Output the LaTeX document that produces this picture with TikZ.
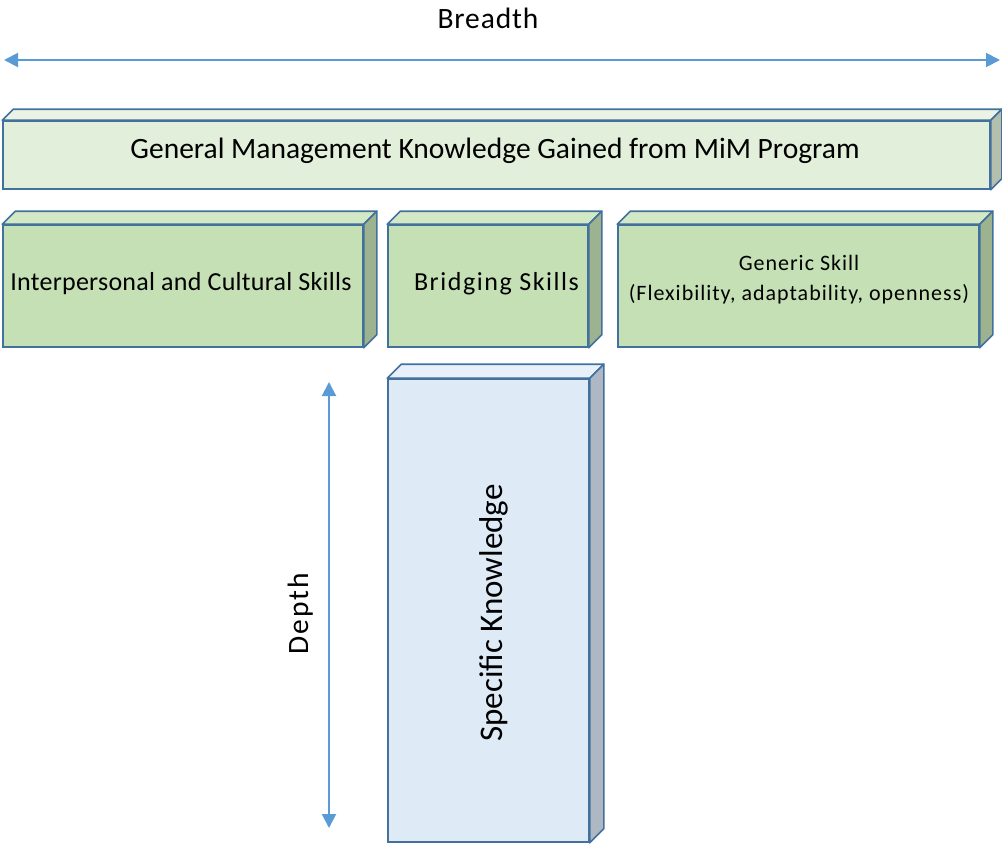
\documentclass[tikz,border=0pt]{standalone}
\usepackage{fontspec}
\setmainfont{Carlito}
\usetikzlibrary{arrows.meta}
\definecolor{edgeblue}{RGB}{65,113,156}
\definecolor{arrowblue}{RGB}{91,155,213}
\definecolor{gmfront}{RGB}{226,239,218}
\definecolor{gmtop}{RGB}{234,243,228}
\definecolor{gmside}{RGB}{181,191,174}
\definecolor{skfront}{RGB}{197,224,180}
\definecolor{sktop}{RGB}{211,232,197}
\definecolor{skside}{RGB}{157,178,143}
\definecolor{spfront}{RGB}{222,235,247}
\definecolor{sptop}{RGB}{232,241,250}
\definecolor{spside}{RGB}{174,184,196}
\newcommand\cubefaces[4]{%
  \draw[facestyle, fill=#3] (#1.north west) -- ++(#2,-#2) -- ([shift={(#2,-#2)}]#1.north east) -- (#1.north east) -- cycle;
  \draw[facestyle, fill=#4] (#1.north east) -- ++(#2,-#2) -- ([shift={(#2,-#2)}]#1.south east) -- (#1.south east) -- cycle;
}
\newcommand\fsz[2]{\fontsize{#1}{#1}\selectfont\addfontfeatures{LetterSpace=#2}}
\begin{document}
\begin{tikzpicture}[x=1pt,y=-1pt,
  facestyle/.style={draw=edgeblue, line width=1.6pt, line join=round},
  frontbox/.style={draw=edgeblue, line width=1.6pt, rectangle, inner sep=0pt},
  dimarrow/.style={draw=arrowblue, line width=2pt, {Triangle[width=14pt,length=14pt]}-{Triangle[width=14pt,length=14pt]}},
  txt/.style={inner sep=0pt, anchor=base}
]
\useasboundingbox (0,0) rectangle (1002,844);

% Breadth
\coordinate (bl) at (4,60);
\coordinate (br) at (1000,60);
\draw[dimarrow] (bl) -- (br);
\node[txt, font=\fsz{29.5}{3}] (breadth) at (488,28) {Breadth};

% General management box
\node[frontbox, fill=gmfront, minimum width=987pt, minimum height=68pt] (gm) at (496.5,155) {};
\cubefaces{gm}{11}{gmtop}{gmside}
\node[txt, font=\fsz{29.5}{0}] (gmtext) at (495,158)
      {General Management Knowledge Gained from MiM Program};

% Skills boxes
\node[frontbox, fill=skfront, minimum width=360pt, minimum height=122pt] (ics) at (183,286) {};
\cubefaces{ics}{13}{sktop}{skside}
\node[txt, font=\fsz{26}{1}] (icstext) at (181,290) {Interpersonal and Cultural Skills};

\node[frontbox, fill=skfront, minimum width=200pt, minimum height=122pt] (bs) at (488,286) {};
\cubefaces{bs}{13}{sktop}{skside}
\node[txt, font=\fsz{26}{6}] (bstext) at (496.5,290) {Bridging Skills};

\node[frontbox, fill=skfront, minimum width=361pt, minimum height=122pt] (gs) at (798.5,286) {};
\cubefaces{gs}{13}{sktop}{skside}
\node[inner sep=0pt, align=center, font=\fsz{22}{4.5}] (gstext) at (799,280)
      {Generic Skill\\[8pt](Flexibility, adaptability, openness)};

% Specific knowledge box
\node[frontbox, fill=spfront, minimum width=201pt, minimum height=463pt] (sk) at (488.5,610.5) {};
\cubefaces{sk}{14}{sptop}{spside}
\node[txt, rotate=90, font=\fsz{33}{0}] (sktext) at (502,613) {Specific Knowledge};

% Depth
\coordinate (dt) at (329,382);
\coordinate (db) at (329,828);
\draw[dimarrow] (dt) -- (db);
\node[txt, rotate=90, font=\fsz{29.5}{7}] (depth) at (308,614) {Depth};
\end{tikzpicture}
\end{document}
